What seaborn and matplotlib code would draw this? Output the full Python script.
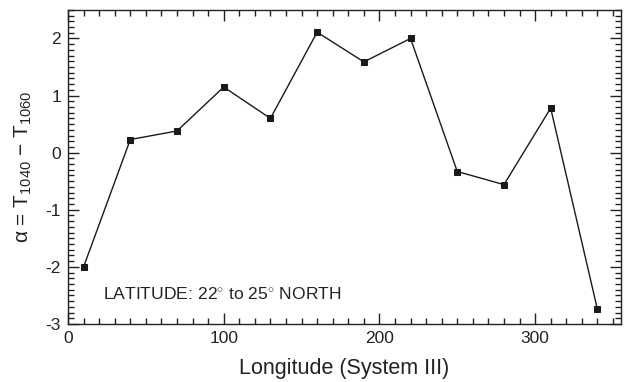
import matplotlib
matplotlib.use("Agg")
import matplotlib.pyplot as plt
from matplotlib.ticker import MultipleLocator
import seaborn as sns
import pandas as pd

longitude = [10, 40, 70, 100, 130, 160, 190, 220, 250, 280, 310, 340]
alpha = [-2.0, 0.23, 0.38, 1.15, 0.6, 2.11, 1.59, 2.0, -0.33, -0.56, 0.78, -2.74]
x_ticks = [0, 100, 200, 300]
y_ticks = [-3, -2, -1, 0, 1, 2]

sns.set_style("ticks")
plt.rcParams['font.family'] = ['Liberation Sans', 'DejaVu Sans']
plt.rcParams['mathtext.fontset'] = 'custom'
plt.rcParams['mathtext.rm'] = 'Liberation Sans'
plt.rcParams['mathtext.it'] = 'Liberation Sans:italic'
plt.rcParams['axes.unicode_minus'] = False

df = pd.DataFrame({"lon": longitude, "alpha": alpha})

fig = plt.figure(figsize=(6.27, 3.82), dpi=100)
ax = fig.add_axes([0.1085, 0.152, 0.8815, 0.822])

sns.lineplot(data=df, x="lon", y="alpha", ax=ax, color="#1a1a1a", linewidth=1.0,
             marker="s", markersize=4.5, markeredgecolor="#1a1a1a", markerfacecolor="#1a1a1a")

ax.set_xlim(0, 355)
ax.set_ylim(-3, 2.5)
ax.set_xticks(x_ticks)
ax.set_yticks(y_ticks)
ax.xaxis.set_minor_locator(MultipleLocator(10))
ax.yaxis.set_minor_locator(MultipleLocator(0.1))
ax.tick_params(which="both", direction="in", top=True, right=True, colors="#222222",
               labelsize=12.5, width=1.0)
ax.tick_params(which="major", length=8, pad=5)
ax.tick_params(which="minor", length=4)
for side in ax.spines.values():
    side.set_linewidth(1.0)
    side.set_color("#222222")

ax.set_xlabel("Longitude (System III)", fontsize=15.5, labelpad=9, color="#222222")
ax.set_ylabel("α = T$_{1040}$ − T$_{1060}$", fontsize=15, labelpad=8, color="#222222")

ax.text(22.5, -2.48, "LATITUDE: 22$^{\\circ}$ to 25$^{\\circ}$ NORTH", fontsize=12.6,
        color="#222222", va="center", ha="left")

fig.savefig("out.png", dpi=100)
